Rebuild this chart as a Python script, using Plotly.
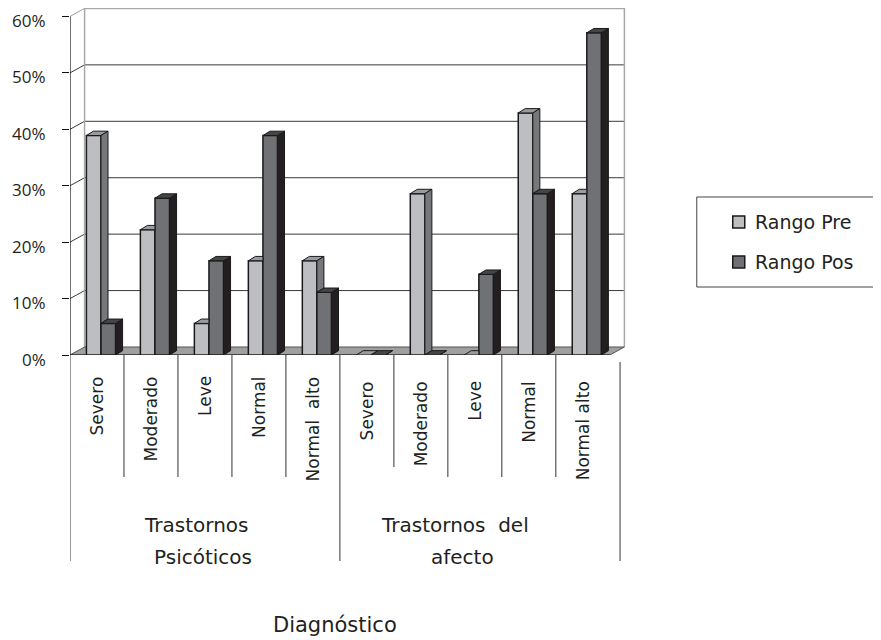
import plotly.graph_objects as go

# ---------------- data ----------------
subcats = ["Severo", "Moderado", "Leve", "Normal", "Normal\u00a0 alto",
           "Severo", "Moderado", "Leve", "Normal", "Normal alto"]
groups = [["Trastornos", "Psicóticos"], ["Trastornos\u00a0 del", "afecto"]]
rango_pre = [38.9, 22.2, 5.6, 16.7, 16.7, 0.0, 28.6, 0.0, 42.9, 28.6]
rango_pos = [5.6, 27.8, 16.7, 38.9, 11.1, 0.0, 0.0, 14.3, 28.6, 57.1]
y_ticks = [0, 10, 20, 30, 40, 50, 60]
y_ticktext = ["0%", "10%", "20%", "30%", "40%", "50%", "60%"]
x_title = "Diagnóstico"
series_names = ["Rango Pre", "Rango Pos"]

# ---------------- geometry / style ----------------
OFF = 8                     # page body margin
W, H = 881 - OFF, 640 - OFF
ML, MT = 70 - OFF, 8 - OFF
XR = [-0.5, 9.8]
YR = [0, 61.5]
PW = 556.2
PH = 347
MR = W - ML - PW
MB = H - MT - PH

BW = 0.27          # bar width (category units)
SHIFT = 0.074      # pair shift to the right
DDX, DDY = 0.13, 0.77   # bar depth offset
WDX, WDY = 0.27, 1.42   # wall depth offset

PRE_FACE, PRE_TOP, PRE_SIDE = "#bdbec2", "#9a9b9f", "#77787c"
POS_FACE, POS_TOP, POS_SIDE = "#707175", "#454547", "#231f20"
EDGE = "#1a1a1a"
TXT = "#231f20"
FONT = "DejaVu Sans"


def px2paper_x(p):
    return (p - OFF - ML) / PW


def px2paper_y(p):
    return (MT + PH - (p - OFF)) / PH


def poly(pts):
    return "M " + " L ".join(f"{x:.4f},{y:.4f}" for x, y in pts) + " Z"


fig = go.Figure()
xs = list(range(len(subcats)))
fig.add_trace(go.Bar(x=xs, y=rango_pre, name=series_names[0], width=BW,
                     offset=SHIFT - BW, marker=dict(color=PRE_FACE, line=dict(color=EDGE, width=1.5)),
                     showlegend=False))
fig.add_trace(go.Bar(x=xs, y=rango_pos, name=series_names[1], width=BW,
                     offset=SHIFT, marker=dict(color=POS_FACE, line=dict(color=EDGE, width=1.5)),
                     showlegend=False))

shapes = []
x0w, x1w = XR[0], 9.5
# back wall
shapes.append(dict(type="rect", xref="x", yref="y", x0=x0w + WDX, x1=x1w + WDX, y0=WDY, y1=60 + WDY,
                   fillcolor="white", line=dict(width=0), layer="below"))
for v in y_ticks[1:-1]:
    shapes.append(dict(type="line", xref="x", yref="y", x0=x0w + WDX, x1=x1w + WDX, y0=v + WDY, y1=v + WDY,
                       line=dict(color="#3a3a3a", width=1), layer="below"))
for v in y_ticks[1:]:
    shapes.append(dict(type="line", xref="x", yref="y", x0=x0w, x1=x0w + WDX, y0=v, y1=v + WDY,
                       line=dict(color="#3a3a3a" if v < 60 else "#a0a0a0", width=1), layer="below"))
# wall border (gray)
shapes.append(dict(type="path", xref="x", yref="y",
                   path=f"M {x0w+WDX},{WDY} L {x0w+WDX},{60+WDY} L {x1w+WDX},{60+WDY} L {x1w+WDX},{WDY}",
                   line=dict(color="#a8a8a8", width=1.5), layer="below"))
# floor
shapes.append(dict(type="path", xref="x", yref="y",
                   path=poly([(x0w, 0), (x1w, 0), (x1w + WDX, WDY), (x0w + WDX, WDY)]),
                   fillcolor="#9f9f9f", line=dict(color="#555555", width=1), layer="below"))
# axis lines
shapes.append(dict(type="line", xref="x", yref="y", x0=x0w, x1=x0w, y0=0, y1=60,
                   line=dict(color="#111111", width=1.2), layer="below"))
shapes.append(dict(type="line", xref="x", yref="y", x0=x0w, x1=x1w, y0=0, y1=0,
                   line=dict(color="#111111", width=1.2), layer="below"))

# 3D faces derived from data
for i, (vp, vq) in enumerate(zip(rango_pre, rango_pos)):
    xl = i + SHIFT - BW
    xr = i + SHIFT
    if vp >= vq:
        pts = [(xl, vp), (xr, vp), (xr + DDX, vp + DDY), (xl + DDX, vp + DDY)]
    else:
        pts = [(xl, vp), (xr, vp), (xr, vp + DDY), (xl + DDX, vp + DDY)]
    shapes.append(dict(type="path", xref="x", yref="y", path=poly(pts), fillcolor=PRE_TOP,
                       line=dict(color=EDGE, width=1)))
    if vp > vq:
        pts = [(xr, vq), (xr, vp), (xr + DDX, vp + DDY), (xr + DDX, vq + DDY)]
        shapes.append(dict(type="path", xref="x", yref="y", path=poly(pts), fillcolor=PRE_SIDE,
                           line=dict(color=EDGE, width=1)))
    xl2, xr2 = xr, xr + BW
    pts = [(xr2, 0), (xr2, vq), (xr2 + DDX, vq + DDY), (xr2 + DDX, DDY)]
    shapes.append(dict(type="path", xref="x", yref="y", path=poly(pts), fillcolor=POS_SIDE,
                       line=dict(color=EDGE, width=1)))
    pts = [(xl2, vq), (xr2, vq), (xr2 + DDX, vq + DDY), (xl2 + DDX, vq + DDY)]
    shapes.append(dict(type="path", xref="x", yref="y", path=poly(pts), fillcolor=POS_TOP,
                       line=dict(color=EDGE, width=1)))

# category dividers
div_short = px2paper_y(477)
div_long = px2paper_y(561)
for i in range(len(subcats) - 1):
    b = i + 0.5
    if i == 4:
        continue
    y_end = px2paper_y(467) if i == 5 else div_short
    shapes.append(dict(type="line", xref="x", yref="paper", x0=b, x1=b, y0=0, y1=y_end,
                       line=dict(color="#333333", width=1)))
for b, ys in [(-0.5, 0), (4.5, 0), (9.69, px2paper_y(362))]:
    shapes.append(dict(type="line", xref="x", yref="paper", x0=b, x1=b, y0=ys, y1=div_long,
                       line=dict(color="#333333", width=1)))

annotations = []
# y tick labels
for v, t in zip(y_ticks, y_ticktext):
    annotations.append(dict(x=px2paper_x(48), y=v, xref="paper", yref="y", text=t, showarrow=False,
                            xanchor="right", yanchor="middle", yshift=-4,
                            font=dict(family="Open Sans", size=17, color=TXT)))
for i, lab in enumerate(subcats):
    annotations.append(dict(x=i, y=px2paper_y(374 if i < 5 else 379), xref="x", yref="paper",
                            text=lab, textangle=-90, showarrow=False, xanchor="center", yanchor="top",
                            font=dict(family=FONT, size=17, color=TXT)))
group_pos = [[(1.83, 525), (1.96, 557)], [(6.63, 525), (6.78, 557)]]
for g, lines in enumerate(groups):
    for (gx, gy), t in zip(group_pos[g], lines):
        annotations.append(dict(x=gx, y=px2paper_y(gy), xref="x", yref="paper", text=t, showarrow=False,
                                xanchor="center", yanchor="middle",
                                font=dict(family=FONT, size=20, color=TXT)))
annotations.append(dict(x=4.41, y=px2paper_y(625), xref="x", yref="paper", text=x_title, showarrow=False,
                        xanchor="center", yanchor="middle", font=dict(family=FONT, size=21, color=TXT)))

# legend (drawn)
shapes.append(dict(type="rect", xref="paper", yref="paper", x0=px2paper_x(697), x1=px2paper_x(879),
                   y0=px2paper_y(287), y1=px2paper_y(197), line=dict(color="#444444", width=1),
                   fillcolor="white"))
for k, (nm, col, cy) in enumerate([(series_names[0], PRE_FACE, 222), (series_names[1], POS_FACE, 262)]):
    shapes.append(dict(type="rect", xref="paper", yref="paper", x0=px2paper_x(733), x1=px2paper_x(745),
                       y0=px2paper_y(cy + 6), y1=px2paper_y(cy - 6), fillcolor=col,
                       line=dict(color=EDGE, width=1.5)))
    annotations.append(dict(x=px2paper_x(753), y=px2paper_y(cy), xref="paper", yref="paper", text=nm,
                            showarrow=False, xanchor="left", yanchor="middle",
                            font=dict(family=FONT, size=19, color=TXT)))

fig.update_layout(
    width=W, height=H, margin=dict(l=ML, r=MR, t=MT, b=MB, autoexpand=False),
    paper_bgcolor="white", plot_bgcolor="white", barmode="overlay",
    shapes=shapes, annotations=annotations, showlegend=False,
    xaxis=dict(range=XR, visible=False, fixedrange=True),
    yaxis=dict(range=YR, tickvals=y_ticks, showticklabels=False, ticks="outside", ticklen=7,
               tickcolor="#111111", showgrid=False, zeroline=False, showline=False, fixedrange=True),
)
fig.write_html("out.html")
